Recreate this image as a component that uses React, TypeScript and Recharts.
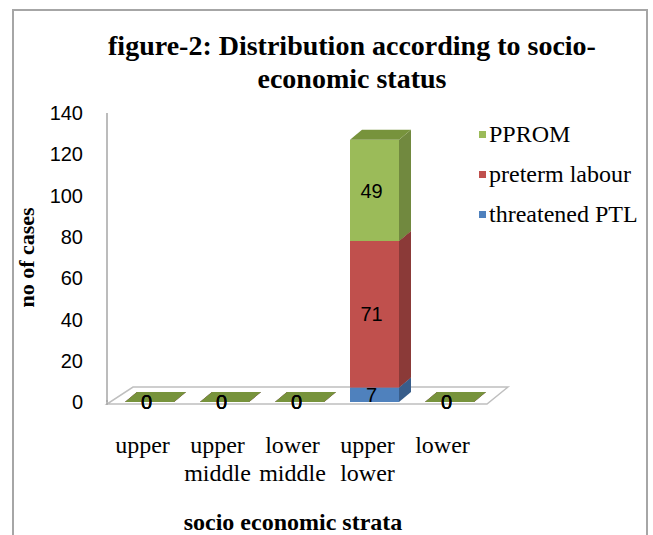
import { BarChart, Bar, XAxis, YAxis, Legend, LabelList, Label } from "recharts";

const strata = ["upper", "upper middle", "lower middle", "upper lower", "lower"];
const threatenedPTL = [0, 0, 0, 7, 0];
const pretermLabour = [0, 0, 0, 71, 0];
const pprom = [0, 0, 0, 49, 0];
const yTicks = [0, 20, 40, 60, 80, 100, 120, 140];

const series = [
	{ name: "threatened PTL", values: threatenedPTL, front: "#4F81BD", side: "#385D8A", top: "#3F6797" },
	{ name: "preterm labour", values: pretermLabour, front: "#C0504D", side: "#8B3A38", top: "#A04340" },
	{ name: "PPROM", values: pprom, front: "#9BBB59", side: "#71893F", top: "#77933C" },
];
const seriesNames = series.map((s) => s.name);

// table for recharts, one row per stratum
const data = strata.map((s, i) => {
	const row: Record<string, string | number> = { strata: s };
	series.forEach((sr) => (row[sr.name] = sr.values[i]));
	return row;
});

const serif = "'Liberation Serif', 'Times New Roman', serif";
const sans = "'Liberation Sans', Arial, sans-serif";

// depth of the fake 3d boxes
const DX = 12;
const DY = 10;

const box3d = (front: string, side: string, top: string) => (props: any) => {
	const { x, y, width, height } = props;
	const r = x + width;
	const b = y + height;
	return (
		<g>
			<rect x={x} y={y} width={width} height={height} fill={front} />
			<polygon points={`${r},${y} ${r + DX},${y - DY} ${r + DX},${b - DY} ${r},${b}`} fill={side} />
			<polygon points={`${x},${y} ${x + DX},${y - DY} ${r + DX},${y - DY} ${r},${y}`} fill={top} />
		</g>
	);
};

const CategoryTick = ({ x, y, payload }: any) => {
	const words = String(payload.value).split(" ");
	const cx = x - 7;
	return (
		<text x={cx} y={y} textAnchor="middle" fontFamily={serif} fontSize={24} fill="#000">
			{words.map((w, i) => (
				<tspan key={i} x={cx} dy={i === 0 ? 51 : 28}>
					{w}
				</tspan>
			))}
		</text>
	);
};

const renderLegend = (props: any) => {
	//excel lists the top series first
	const items = [...(props.payload || [])].sort(
		(a: any, b: any) => seriesNames.indexOf(b.value) - seriesNames.indexOf(a.value)
	);
	return (
		<div style={{ fontFamily: serif, fontSize: 24, lineHeight: "40px", color: "#000" }}>
			{items.map((it: any) => (
				<div key={it.value} style={{ display: "flex", alignItems: "center", whiteSpace: "nowrap" }}>
					<span style={{ width: 7, height: 7, background: it.color, marginRight: 3, display: "inline-block" }} />
					<span style={{ fontFamily: serif }}>{it.value}</span>
				</div>
			))}
		</div>
	);
};

export default function App() {
	return (
		<div style={{ position: "absolute", left: 0, top: 0, width: 653, height: 535, background: "#fff", overflow: "hidden" }}>
			<div
				style={{
					position: "absolute",
					left: 12,
					top: 9,
					width: 632,
					height: 560,
					border: "2px solid #A6A6A6",
				}}
			/>
			<svg width={653} height={535} style={{ position: "absolute", left: 0, top: 0 }}>
				<text x={352} y={55} textAnchor="middle" fontFamily={serif} fontWeight="bold" fontSize={28} fill="#000">
					figure-2: Distribution according to socio-
				</text>
				<text x={352} y={88} textAnchor="middle" fontFamily={serif} fontWeight="bold" fontSize={28} fill="#000">
					economic status
				</text>
				{/* floor of the 3d plot */}
				<polygon points="107,404 487,404 508,387 133,387" fill="#fff" stroke="#BFBFBF" strokeWidth={1.5} />
				<line x1={107} y1={400} x2={107} y2={405} stroke="#A6A6A6" strokeWidth={1.5} />
			</svg>
			<div style={{ position: "absolute", left: 0, top: 0 }}>
				<BarChart
					width={653}
					height={535}
					data={data}
					margin={{ top: 113, right: 166, bottom: 5, left: 10 }}
					barSize={49}
				>
					<XAxis
						dataKey="strata"
						axisLine={false}
						tickLine={false}
						tickSize={0}
						tickMargin={0}
						height={128}
						interval={0}
						padding={{ left: 5, right: 0 }}
						tick={<CategoryTick />}
					>
						<Label
							value="socio economic strata"
							position="insideBottom"
							offset={0}
							dx={-4}
							fontFamily={serif}
							fontWeight="bold"
							fontSize={24}
							fill="#000"
						/>
					</XAxis>
					<YAxis
						domain={[0, 140]}
						ticks={yTicks}
						width={97}
						tickLine={false}
						tickSize={0}
						tickMargin={24}
						axisLine={{ stroke: "#A6A6A6", strokeWidth: 1.5 }}
						tick={{ fontFamily: sans, fontSize: 20, fill: "#000" }}
						label={{
							value: "no of cases",
							angle: -90,
							position: "insideLeft",
							offset: 16,
							fontFamily: serif,
							fontWeight: "bold",
							fontSize: 22,
							fill: "#000",
							style: { textAnchor: "middle" },
						}}
					/>
					<Legend
						layout="vertical"
						align="center"
						verticalAlign="middle"
						content={renderLegend}
						wrapperStyle={{ left: 479, top: 114, width: 170 }}
					/>
					{series.map((s) => (
						<Bar
							key={s.name}
							dataKey={s.name}
							stackId="a"
							fill={s.front}
							isAnimationActive={false}
							shape={box3d(s.front, s.side, s.top)}
						>
							<LabelList dataKey={s.name} position="center" dx={-3} fontFamily={sans} fontSize={20} fill="#000" />
						</Bar>
					))}
				</BarChart>
			</div>
		</div>
	);
}
